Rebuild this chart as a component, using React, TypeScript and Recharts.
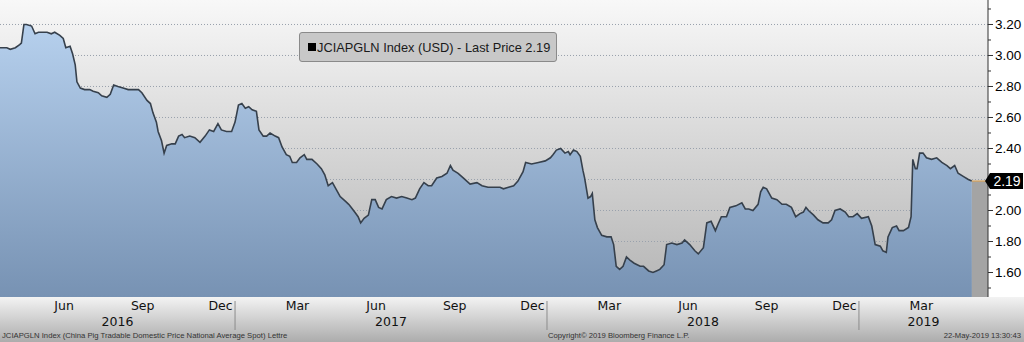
import {
  ComposedChart, Area, XAxis, YAxis, CartesianGrid, ReferenceArea, ReferenceLine, Legend,
} from "recharts";

const seriesName = "JCIAPGLN Index (USD) - Last Price 2.19";
const lastPrice = 2.19;
const footerLeft = "JCIAPGLN Index (China Pig Tradable Domestic Price National Average Spot) Lettre";
const footerMid = "Copyright\u00a9 2019 Bloomberg Finance L.P.";
const footerRight = "22-May-2019 13:30:43";

// days since 2016-01-01
const day = [
  91, 99, 103, 109, 114, 116, 119, 122, 128, 132, 136, 140, 146, 151, 155, 161, 165, 168, 173, 176,
  179, 181, 185, 190, 196, 200, 206, 210, 216, 220, 224, 229, 235, 241, 247, 253, 257, 263, 267, 270,
  274, 276, 280, 283, 286, 292, 296, 300, 304, 307, 313, 319, 325, 331, 336, 341, 346, 350, 356, 362,
  366, 370, 374, 378, 382, 386, 391, 394, 399, 403, 407, 413, 417, 421, 426, 430, 433, 438, 442, 447,
  450, 456, 462, 467, 471, 475, 480, 485, 489, 495, 499, 502, 506, 510, 513, 517, 522, 526, 530, 534,
  538, 543, 549, 555, 561, 567, 573, 577, 582, 587, 592, 596, 602, 608, 614, 618, 621, 627, 633, 641,
  649, 655, 662, 670, 676, 680, 686, 692, 697, 703, 706, 713, 721, 729, 735, 738, 742, 747, 752, 756,
  758, 762, 766, 770, 773, 775, 779, 782, 784, 787, 790, 795, 801, 806, 809, 812, 816, 820, 824, 828,
  833, 840, 844, 850, 855, 859, 863, 868, 871, 877, 883, 889, 892, 898, 904, 908, 914, 918, 923, 928,
  931, 935, 941, 945, 952, 959, 963, 967, 972, 978, 981, 984, 988, 994, 1000, 1006, 1011, 1017, 1022, 1027,
  1031, 1034, 1037, 1043, 1048, 1054, 1060, 1064, 1068, 1074, 1080, 1084, 1089, 1094, 1099, 1107, 1111, 1115, 1121, 1124,
  1128, 1130, 1135, 1140, 1143, 1148, 1154, 1157, 1159, 1162, 1164, 1167, 1171, 1175, 1181, 1187, 1193, 1199, 1203, 1208,
  1212, 1218, 1224, 1228,
];

const price = [
  3.05, 3.05, 3.04, 3.05, 3.07, 3.08, 3.20, 3.20, 3.19, 3.14, 3.15, 3.15, 3.15, 3.14, 3.15, 3.13, 3.11, 3.05, 3.06, 3.01,
  2.94, 2.83, 2.79, 2.78, 2.78, 2.77, 2.76, 2.74, 2.73, 2.75, 2.81, 2.80, 2.79, 2.78, 2.78, 2.78, 2.76, 2.71, 2.69, 2.63,
  2.57, 2.51, 2.45, 2.37, 2.42, 2.43, 2.43, 2.48, 2.49, 2.47, 2.48, 2.47, 2.44, 2.48, 2.52, 2.51, 2.56, 2.52, 2.51, 2.51,
  2.57, 2.68, 2.69, 2.66, 2.67, 2.65, 2.64, 2.52, 2.48, 2.48, 2.50, 2.48, 2.47, 2.41, 2.36, 2.35, 2.31, 2.31, 2.34, 2.36,
  2.33, 2.33, 2.30, 2.27, 2.23, 2.16, 2.18, 2.13, 2.09, 2.06, 2.04, 2.02, 1.99, 1.96, 1.92, 1.95, 1.97, 2.07, 2.07, 2.02,
  2.01, 2.07, 2.09, 2.08, 2.09, 2.08, 2.07, 2.08, 2.14, 2.18, 2.16, 2.16, 2.21, 2.22, 2.24, 2.29, 2.26, 2.24, 2.21, 2.17,
  2.18, 2.16, 2.15, 2.15, 2.15, 2.14, 2.15, 2.16, 2.19, 2.25, 2.31, 2.30, 2.31, 2.32, 2.34, 2.36, 2.39, 2.40, 2.37, 2.38,
  2.36, 2.39, 2.38, 2.35, 2.26, 2.21, 2.08, 2.09, 2.11, 1.94, 1.89, 1.84, 1.83, 1.83, 1.78, 1.64, 1.62, 1.64, 1.70, 1.68,
  1.66, 1.64, 1.64, 1.61, 1.60, 1.61, 1.62, 1.65, 1.78, 1.79, 1.78, 1.79, 1.81, 1.78, 1.74, 1.72, 1.76, 1.92, 1.93, 1.87,
  1.91, 1.96, 1.96, 2.02, 2.03, 2.05, 2.01, 2.01, 2.00, 2.04, 2.12, 2.15, 2.14, 2.08, 2.07, 2.04, 2.04, 2.02, 1.96, 1.98,
  1.99, 2.02, 2.00, 1.97, 1.94, 1.92, 1.92, 1.94, 2.00, 2.01, 1.99, 1.96, 1.96, 1.98, 1.95, 1.96, 1.90, 1.78, 1.77, 1.74,
  1.73, 1.83, 1.89, 1.90, 1.87, 1.87, 1.89, 1.96, 2.33, 2.27, 2.27, 2.37, 2.37, 2.34, 2.33, 2.34, 2.31, 2.29, 2.27, 2.29,
  2.24, 2.22, 2.20, 2.19,
];

const yTicks = [1.5, 1.6, 1.7, 1.8, 1.9, 2.0, 2.1, 2.2, 2.3, 2.4, 2.5, 2.6, 2.7, 2.8, 2.9, 3.0, 3.1, 3.2, 3.3];
const yGrid = [1.6, 1.8, 2.0, 2.2, 2.4, 2.6, 2.8, 3.0, 3.2];
const monthNames = ["Jan", "Feb", "Mar", "Apr", "May", "Jun", "Jul", "Aug", "Sep", "Oct", "Nov", "Dec"];
const labelMonths = [2, 5, 8, 11];
const years = [2016, 2017, 2018, 2019];

const T0 = Date.UTC(2016, 0, 1);
const dayOf = (y: number, m: number, d = 1) => Math.round((Date.UTC(y, m, d) - T0) / 86400000);
const X_MIN = dayOf(2016, 3, 1);
const X_MAX = dayOf(2019, 5, 1);
const Y_MIN = 1.442;
const Y_MAX = 3.358;

const rows = day.map((d, i) => ({ day: d, price: price[i] }));

const monthStarts: number[] = [];
const quarterStarts: number[] = [];
const xInfo = new Map<number, { kind: string; text: string }>();
years.forEach((y) => {
  monthNames.forEach((name, m) => {
    const s = dayOf(y, m, 1);
    if (s > X_MIN && s < X_MAX) {
      monthStarts.push(s);
      if (m % 3 === 0) quarterStarts.push(s);
      if (m === 0) xInfo.set(s, { kind: "sep", text: "" });
    }
    const mid = dayOf(y, m, 15);
    if (labelMonths.includes(m) && mid > X_MIN && mid < X_MAX) xInfo.set(mid, { kind: "month", text: name });
  });
  const a = Math.max(dayOf(y, 0, 1), X_MIN);
  const b = Math.min(dayOf(y + 1, 0, 1), X_MAX);
  xInfo.set((a + b) / 2, { kind: "year", text: String(y) });
});
const labelTicks = Array.from(xInfo.keys()).sort((p, q) => p - q);

const XLabel = (props: any) => {
  const { x, y, payload } = props;
  const info = xInfo.get(payload.value);
  if (!info) return <g />;
  if (info.kind === "sep") return <line x1={x} x2={x} y1={y + 4} y2={y + 33} stroke="#8c8c8c" />;
  return (
    <text x={x} y={info.kind === "month" ? y + 13 : y + 29} textAnchor="middle"
      fontFamily="DejaVu Sans" fontSize={12.5} fill="#111">
      {info.text}
    </text>
  );
};

const YTick = (props: any) => {
  const { x, y, payload } = props;
  const v = payload.value;
  if (v === lastPrice) {
    return (
      <g>
        <polygon points={`${x - 3},${y} ${x + 2},${y - 8} ${x + 35},${y - 8} ${x + 35},${y + 8} ${x + 2},${y + 8}`} fill="#000" />
        <text x={x + 19} y={y} dy="0.36em" textAnchor="middle" fontFamily="Liberation Sans" fontSize={14}
          fill="#fff">{v.toFixed(2)}</text>
      </g>
    );
  }
  const major = Math.round(v * 10) % 2 === 0;
  return (
    <g>
      <line x1={x} x2={x + (major ? 5 : 3)} y1={y} y2={y} stroke="#333" />
      {major && (
        <text x={x + 7} y={y} dy="0.36em" fontFamily="Liberation Sans" fontSize={13.5} fill="#000">
          {v.toFixed(2)}
        </text>
      )}
    </g>
  );
};

const LegendBox = (props: any) => {
  const label = props.payload?.[0]?.value ?? seriesName;
  return (
    <div style={{
      width: 258, height: 30, boxSizing: "border-box", background: "#c8c8c8", border: "1px solid #8a8a8a",
      borderRadius: 3, display: "flex", alignItems: "center", paddingLeft: 8,
      fontFamily: "Liberation Sans", fontSize: 12.8, color: "#1a1a1a", whiteSpace: "nowrap",
    }}>
      <span style={{ display: "inline-block", width: 8, height: 8, background: "#000", marginRight: 1 }} />
      {label}
    </div>
  );
};

const footStyle = {
  position: "absolute" as const, top: 331, fontFamily: "Liberation Sans", fontSize: 7.7, color: "#333",
  lineHeight: "10px", whiteSpace: "nowrap" as const,
};

export default function App() {
  return (
    <div style={{ position: "absolute", left: 0, top: 0, width: 1024, height: 342, background: "#fff", overflow: "hidden" }}>
      <div style={{ position: "absolute", left: 0, top: 297, width: 1024, height: 45, background: "linear-gradient(#f3f3f3, #acacac)" }} />
      <ComposedChart width={1024} height={342} data={rows} margin={{ top: 0, right: 0, bottom: 0, left: 0 }}>
        <defs>
          <linearGradient id="plotBg" gradientUnits="userSpaceOnUse" x1="0" y1="0" x2="0" y2="297">
            <stop offset="0%" stopColor="#f8f8f8" />
            <stop offset="100%" stopColor="#b4b4b4" />
          </linearGradient>
          <linearGradient id="areaFill" gradientUnits="userSpaceOnUse" x1="0" y1="0" x2="0" y2="297">
            <stop offset="0%" stopColor="#bcd6f3" />
            <stop offset="100%" stopColor="#7792b3" />
          </linearGradient>
        </defs>
        <CartesianGrid xAxisId="m" fill="url(#plotBg)" stroke="#b0b0b0" strokeDasharray="1 2"
          verticalValues={quarterStarts} horizontalValues={yGrid} />
        <XAxis xAxisId="m" type="number" dataKey="day" domain={[X_MIN, X_MAX]} ticks={monthStarts} interval={0}
          tick={false} tickSize={4} tickLine={{ stroke: "#555" }} axisLine={false} height={1} />
        <XAxis xAxisId="lbl" type="number" dataKey="day" domain={[X_MIN, X_MAX]} ticks={labelTicks} interval={0}
          tick={<XLabel />} tickLine={false} axisLine={false} tickSize={0} tickMargin={0} height={44} />
        <YAxis orientation="right" type="number" domain={[Y_MIN, Y_MAX]} ticks={[...yTicks, lastPrice]} interval={0}
          tick={<YTick />} tickLine={false} tickSize={0} tickMargin={0} axisLine={{ stroke: "#333" }} width={36} />
        <ReferenceArea xAxisId="m" x1={day[day.length - 1]} x2={X_MAX} y1={Y_MIN} y2={lastPrice}
          fill="#a4a4a4" fillOpacity={1} stroke="none" />
        <Area xAxisId="m" type="linear" dataKey="price" name={seriesName} stroke="#36404c" strokeWidth={1.6}
          fill="url(#areaFill)" fillOpacity={1} isAnimationActive={false} dot={false} activeDot={false} />
        <CartesianGrid xAxisId="m" stroke="#6f87a5" strokeOpacity={0.35} strokeDasharray="1 2"
          verticalValues={quarterStarts} horizontalValues={yGrid} />
        <ReferenceLine xAxisId="m" segment={[{ x: day[day.length - 1], y: lastPrice }, { x: X_MAX, y: lastPrice }]}
          stroke="#e3a24a" strokeWidth={1} />
        <Legend layout="horizontal" verticalAlign="middle" align="center" content={<LegendBox />}
          wrapperStyle={{ left: 299, top: 32, width: 258, height: 30 }} />
      </ComposedChart>
      <div style={{ ...footStyle, left: 2 }}>{footerLeft}</div>
      <div style={{ ...footStyle, left: 548 }}>{footerMid}</div>
      <div style={{ ...footStyle, right: 3 }}>{footerRight}</div>
    </div>
  );
}
